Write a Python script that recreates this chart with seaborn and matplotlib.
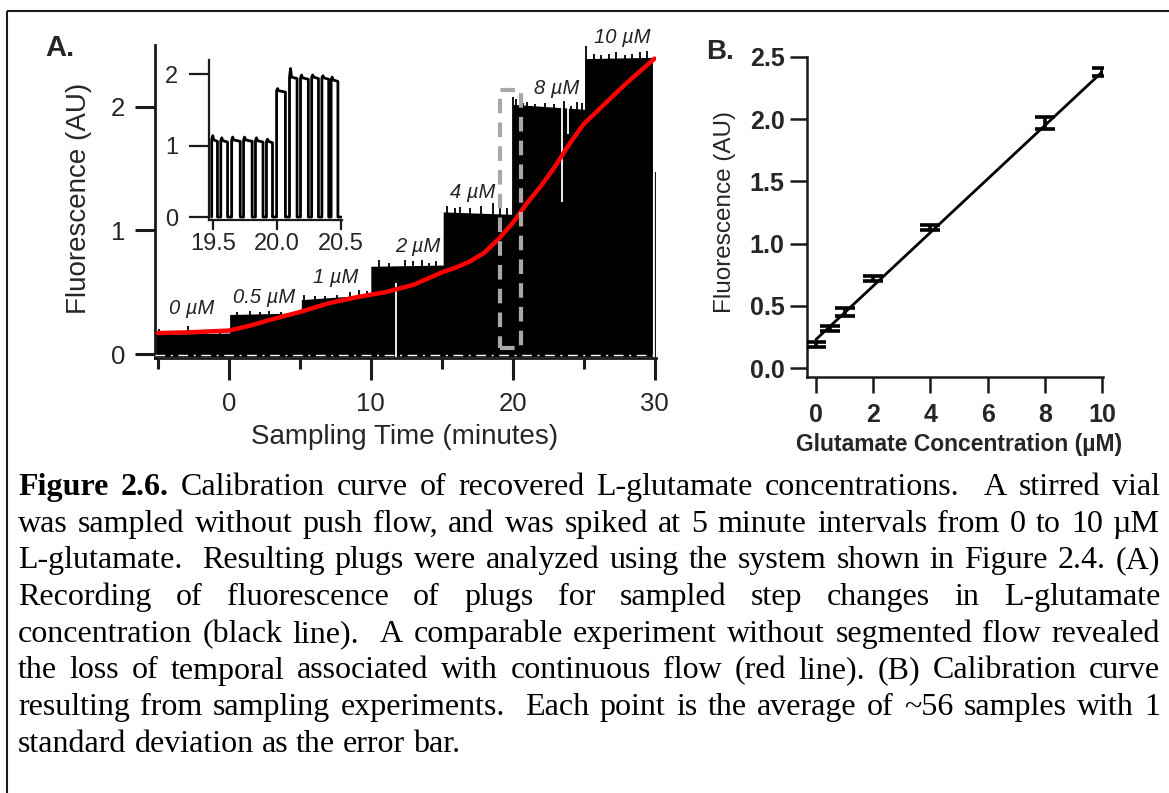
import re
import numpy as np
import pandas as pd
import matplotlib
matplotlib.use("Agg")
import matplotlib.pyplot as plt
import seaborn as sns
from matplotlib.patches import Rectangle

# ---------------- data ----------------
# Panel A: segmented-flow plug trace, one plateau per concentration step
seg_start = [-5.21, 0.05, 4.2, 5.1, 10.0, 15.1, 20.0, 25.1]
seg_end = [0.05, 4.2, 5.1, 10.0, 15.1, 20.0, 25.1, 29.85]
seg_level_start = [0.16, 0.32, 0.33, 0.44, 0.71, 1.15, 2.02, 2.39]
seg_level_end = [0.17, 0.33, 0.34, 0.48, 0.72, 1.13, 1.98, 2.40]
# single plugs standing above the plateaus
spike_t = [-4.9, -4.1, -2.9, -1.6, -0.6, 0.6, 1.5, 2.2, 2.8, 3.7, 5.3, 6.1, 6.8, 7.6, 8.5, 9.2, 9.7,
           10.6, 11.3, 12.4, 13.0, 13.6, 14.1, 14.6,
           15.4, 15.9, 16.3, 17.0, 17.8, 18.6, 19.1, 19.6,
           20.05, 20.2, 20.7, 21.0, 21.6, 22.3, 22.9, 23.6, 24.1, 24.5, 24.9,
           25.2, 25.7, 26.2, 26.8, 27.3, 27.9, 28.4, 29.0, 29.5]
spike_v = [0.20, 0.18, 0.23, 0.19, 0.19, 0.34, 0.35, 0.34, 0.35, 0.34, 0.48, 0.47, 0.47, 0.48, 0.50, 0.52, 0.51,
           0.76, 0.74, 0.76, 0.75, 0.76, 0.74, 0.75,
           1.20, 1.18, 1.19, 1.18, 1.20, 1.22, 1.18, 1.18,
           2.08, 2.06, 2.03, 2.04, 2.02, 2.03, 2.02, 2.05, 2.01, 2.04, 2.03,
           2.49, 2.43, 2.42, 2.43, 2.44, 2.42, 2.43, 2.44, 2.45]
# gaps between plugs visible as white lines (time, from, to)
gap_t = [11.75, 23.5, 23.9, 29.93]
gap_lo = [-0.02, 1.23, 1.78, -0.02]
gap_hi = [0.575, 2.00, 2.00, 2.45]
# last isolated plug
tail_t = [30.05]
tail_v = [1.47]

# Panel A: continuous-flow recording (red line)
red_t = [-5.0, -3.0, -1.0, 0.0, 1.5, 3.0, 5.0, 7.0, 9.0, 10.0, 11.0, 12.0, 13.0, 14.0, 15.0,
         16.0, 17.0, 18.0, 19.0, 20.0, 21.0, 22.0, 23.0, 24.0, 25.0, 26.0, 27.0, 28.0,
         29.0, 30.0]
red_v = [0.17, 0.175, 0.185, 0.19, 0.23, 0.28, 0.34, 0.41, 0.46, 0.48, 0.50, 0.53, 0.56, 0.61,
         0.66, 0.70, 0.75, 0.82, 0.93, 1.06, 1.22, 1.36, 1.52, 1.70, 1.86, 1.97, 2.08, 2.19,
         2.29, 2.39]

step_labels = ["0 µM", "0.5 µM", "1 µM", "2 µM", "4 µM", "8 µM", "10 µM"]

# zoom window marked on the trace
box_t = [19.1, 20.6]
box_v = [0.05, 2.14]

# Inset: individual plugs between 19.5 and 20.5 min
inset_rise = [19.49, 19.561, 19.646, 19.739, 19.832, 19.918, 19.997, 20.098, 20.184, 20.271, 20.351, 20.423]
inset_fall = [19.535, 19.614, 19.713, 19.806, 19.891, 19.965, 20.066, 20.157, 20.245, 20.324, 20.404, 20.476]
inset_level = [1.08, 1.07, 1.08, 1.08, 1.07, 1.06, 1.77, 1.96, 1.95, 1.96, 1.95, 1.92]
inset_peak = [1.14, 1.11, 1.12, 1.12, 1.11, 1.09, 1.80, 2.08, 1.99, 1.99, 1.98, 1.96]
inset_end = 20.50

# Panel B: calibration
conc = [0, 0.5, 1, 2, 4, 8, 10]
mean_f = [0.19, 0.32, 0.45, 0.72, 1.13, 1.97, 2.38]
sd_f = [0.02, 0.02, 0.03, 0.02, 0.02, 0.05, 0.03]
fit_x = [0.0, 10.0]
fit_y = [0.23, 2.38]

caption_lines = [
    "Figure 2.6. Calibration curve of recovered L-glutamate concentrations.  A stirred vial",
    "was sampled without push flow, and was spiked at 5 minute intervals from 0 to 10 µM",
    "L-glutamate.  Resulting plugs were analyzed using the system shown in Figure 2.4. (A)",
    "Recording of fluorescence of plugs for sampled step changes in L-glutamate",
    "concentration (black line).  A comparable experiment without segmented flow revealed",
    "the loss of temporal associated with continuous flow (red line). (B) Calibration curve",
    "resulting from sampling experiments.  Each point is the average of ~56 samples with 1",
    "standard deviation as the error bar.",
]

# ---------------- style ----------------
sns.set_theme(style="ticks")
plt.rcParams["font.family"] = ["Liberation Sans", "DejaVu Sans"]
plt.rcParams["axes.linewidth"] = 2.0

W, H = 1169, 793
fig = plt.figure(figsize=(W / 100, H / 100), dpi=100)
fig.patch.set_facecolor("white")

# overlay in pixel coordinates for frame and caption
ov = fig.add_axes([0, 0, 1, 1])
ov.set_xlim(0, W)
ov.set_ylim(H, 0)
ov.axis("off")
ov.plot([7, W], [11, 11], color="k", lw=1.5, solid_capstyle="butt")
ov.plot([7, 7], [11, H], color="k", lw=1.5, solid_capstyle="butt")

# ---------------- Panel A ----------------
ax = fig.add_axes([155 / W, 1 - 358 / H, 501 / W, 313 / H])
ax.set_facecolor("none")
top_t, top_v = [], []
for s, e, a, b in zip(seg_start, seg_end, seg_level_start, seg_level_end):
    top_t += [s, e]
    top_v += [a, b]
ax.fill_between(top_t, -0.02, top_v, color="black", lw=0, zorder=2)
ax.vlines(spike_t, 0, spike_v, color="black", lw=1.3, zorder=2)
ax.vlines(tail_t, -0.02, tail_v, color="black", lw=1.3, zorder=2)
ax.vlines(gap_t, gap_lo, gap_hi, color="white", lw=1.3, zorder=3)
ax.plot([seg_start[0], seg_end[-1]], [-0.008, -0.008], color="white", lw=1.0,
        dashes=(7, 4, 1.5, 4), zorder=3)
sns.lineplot(x=red_t, y=red_v, ax=ax, color="#ff0000", lw=3.2, sort=False,
             estimator=None, zorder=4)
ax.add_patch(Rectangle((box_t[0], box_v[0]), box_t[1] - box_t[0], box_v[1] - box_v[0],
                       fill=False, edgecolor="#a8a8a8", lw=3, ls=(0, (3.5, 2.2)), zorder=5))

label_pos_t = [-2.6, 2.5, 7.5, 13.3, 17.2, 23.1, 27.7]
label_pos_v = [0.37, 0.46, 0.62, 0.87, 1.31, 2.15, 2.56]
for lab, lt, lv in zip(step_labels, label_pos_t, label_pos_v):
    ax.text(lt, lv, lab, ha="center", va="center", fontsize=14.5, style="italic",
            color="#222222", clip_on=False, zorder=6)

ax.set_xlim(-5.21, 30.1)
ax.set_ylim(-0.032, 2.50)
ax.set_xticks([0, 10, 20, 30])
ax.set_xticks([-5, 5, 15, 25], minor=True)
ax.set_yticks([0, 1, 2])
ax.tick_params(axis="x", which="major", length=15.8, width=2.2, labelsize=18.5, pad=9, color="k")
ax.tick_params(axis="x", which="minor", length=8, width=2.2, color="k", bottom=True)
ax.tick_params(axis="y", which="major", length=14.4, width=2.2, labelsize=18.5, pad=7, color="k")
sns.despine(ax=ax)
for sp in ["left", "bottom"]:
    ax.spines[sp].set_linewidth(2.0)
    ax.spines[sp].set_color("k")
ax.set_xlabel("Sampling Time (minutes)", fontsize=20, va="center")
ax.xaxis.set_label_coords(0.499, -0.252)
ax.set_ylabel("Fluorescence (AU)", fontsize=20, va="center")
ax.yaxis.set_label_coords(-0.1517, 0.511)

# inset
axi = fig.add_axes([209 / W, 1 - 220 / H, 133 / W, 160 / H])
axi.set_facecolor("none")
ix, iy = [], []
for r, f, lv, pk in zip(inset_rise, inset_fall, inset_level, inset_peak):
    ix += [r, r, r + 0.008, r + 0.016, f, f]
    iy += [0.0, lv, pk, lv, lv - 0.02, 0.0]
ix.append(inset_end)
iy.append(0.0)
sns.lineplot(x=ix, y=iy, ax=axi, color="black", lw=2.0, sort=False, estimator=None)
axi.set_xlim(19.469, 20.508)
axi.set_ylim(-0.042, 2.20)
axi.set_xticks([19.5, 20.0, 20.5])
axi.set_xticklabels(["19.5", "20.0", "20.5"])
axi.set_yticks([0, 1, 2])
axi.tick_params(axis="x", length=7.2, width=1.6, labelsize=17, pad=2, color="k")
axi.tick_params(axis="y", length=14.4, width=1.6, labelsize=17, pad=8, color="k")
sns.despine(ax=axi)
for sp in ["left", "bottom"]:
    axi.spines[sp].set_linewidth(1.6)
    axi.spines[sp].set_color("k")
axi.set_xlabel("")
axi.set_ylabel("")

ov.text(60, 48, "A.", fontsize=21, fontweight="bold", ha="center", va="center")

# ---------------- Panel B ----------------
bx = fig.add_axes([807 / W, 1 - 377 / H, 296 / W, 320 / H])
bx.set_facecolor("none")
sns.lineplot(x=fit_x, y=fit_y, ax=bx, color="black", lw=2.0, sort=False, estimator=None)
bx.errorbar(conc, mean_f, yerr=sd_f, fmt="none", ecolor="black", elinewidth=2.6,
            capsize=7, capthick=2.6, zorder=4)
bx.set_xlim(-0.315, 10.03)
bx.set_ylim(-0.072, 2.496)
bx.set_xticks([0, 2, 4, 6, 8, 10])
bx.set_yticks([0.0, 0.5, 1.0, 1.5, 2.0, 2.5])
bx.set_yticklabels(["0.0", "0.5", "1.0", "1.5", "2.0", "2.5"])
bx.tick_params(axis="x", length=11.5, width=1.8, labelsize=18, pad=7, color="k")
bx.tick_params(axis="y", length=12.2, width=1.8, labelsize=18, pad=4, color="k")
for lab in bx.get_xticklabels() + bx.get_yticklabels():
    lab.set_fontweight("bold")
sns.despine(ax=bx)
for sp in ["left", "bottom"]:
    bx.spines[sp].set_linewidth(1.8)
    bx.spines[sp].set_color("k")
bx.set_xlabel("Glutamate Concentration (µM)", fontsize=16.5, fontweight="bold", va="center")
bx.xaxis.set_label_coords(0.5135, -0.2125)
bx.set_ylabel("Fluorescence (AU)", fontsize=17.5, va="center")
bx.yaxis.set_label_coords(-0.277, 0.515)

ov.text(720, 52, "B.", fontsize=20, fontweight="bold", ha="center", va="center")

# ---------------- caption (justified) ----------------
renderer = fig.canvas.get_renderer()
cap_family = ["Liberation Serif", "DejaVu Serif"]
cap_size = 23
x_left, x_right = 18, 1160
y0, dy = 495, 36.7


def width_of(txt, weight="normal"):
    t = ov.text(0, 0, txt, fontsize=cap_size, family=cap_family, fontweight=weight)
    w = t.get_window_extent(renderer).width
    t.remove()
    return w


space_w = width_of("x x") - width_of("xx")
for i, line in enumerate(caption_lines):
    y = y0 + i * dy
    toks = re.findall(r"(\S+)(\s*)", line)
    weights = ["bold" if (i == 0 and k < 2) else "normal" for k in range(len(toks))]
    widths = [width_of(w, wt) for (w, _), wt in zip(toks, weights)]
    nsp = sum(len(s) for _, s in toks[:-1])
    justify = i < len(caption_lines) - 1
    sp = (x_right - x_left - sum(widths)) / nsp if (justify and nsp) else space_w
    x = x_left
    for (word, spaces), w, wt in zip(toks, widths, weights):
        ov.text(x, y, word, fontsize=cap_size, family=cap_family, fontweight=wt,
                ha="left", va="baseline", color="black")
        x += w + len(spaces) * sp

fig.savefig("out.png", dpi=100, facecolor="white")
